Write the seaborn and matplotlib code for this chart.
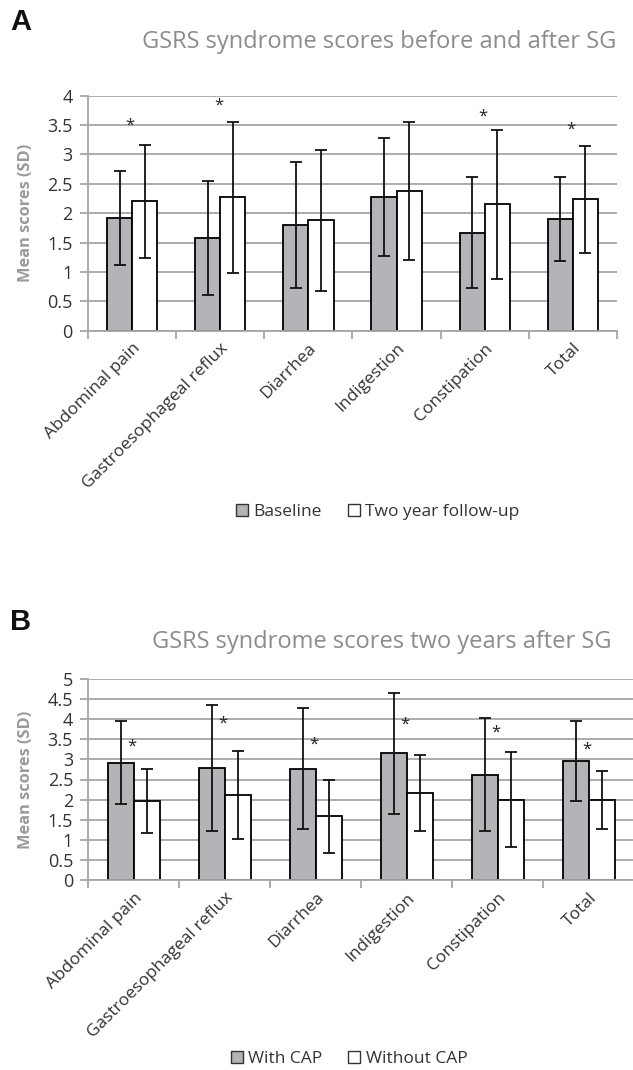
import numpy as np
import pandas as pd
import matplotlib
matplotlib.use("Agg")
import matplotlib.pyplot as plt
from matplotlib.patches import Patch
import seaborn as sns

# ---------------- data ----------------
categories = ["Abdominal pain", "Gastroesophageal reflux", "Diarrhea",
              "Indigestion", "Constipation", "Total"]

# Panel A
baseline_mean = [1.92, 1.58, 1.80, 2.28, 1.67, 1.90]
baseline_sd = [0.80, 0.97, 1.08, 1.00, 0.94, 0.72]
followup_mean = [2.20, 2.27, 1.88, 2.38, 2.15, 2.24]
followup_sd = [0.96, 1.28, 1.20, 1.17, 1.27, 0.91]
star_A = [3.57, 3.91, None, None, 3.73, 3.50]

# Panel B
with_cap_mean = [2.92, 2.79, 2.77, 3.15, 2.62, 2.96]
with_cap_sd = [1.03, 1.57, 1.50, 1.50, 1.41, 0.99]
without_cap_mean = [1.96, 2.12, 1.58, 2.17, 2.00, 1.99]
without_cap_sd = [0.80, 1.10, 0.90, 0.94, 1.18, 0.72]
star_B = [3.44, 4.02, 3.48, 3.98, 3.80, 3.36]

title_A = "GSRS syndrome scores before and after SG"
title_B = "GSRS syndrome scores two years after SG"
legend_A = ["Baseline", "Two year follow-up"]
legend_B = ["With CAP", "Without CAP"]
ylabel = "Mean scores (SD)"

# ---------------- style ----------------
sns.set_theme(style="white")
plt.rcParams["font.family"] = ["Open Sans", "DejaVu Sans"]

GRAY = "#b2b4b8"
GRID = "#a6a6a6"
TXT = "#333333"

W, H = 633, 1070
fig = plt.figure(figsize=(W / 100, H / 100), dpi=100)


def px_axes(left, top, right, bottom):
    return fig.add_axes([left / W, 1 - bottom / H, (right - left) / W, (bottom - top) / H])


def panel(ax, m1, s1, m2, s2, names, ymax, stars, label_x):
    df = pd.DataFrame({
        "category": categories * 2,
        "group": [names[0]] * len(categories) + [names[1]] * len(categories),
        "mean": m1 + m2,
    })
    sns.barplot(data=df, x="category", y="mean", hue="group",
                palette=[GRAY, "white"], saturation=1, width=0.57,
                edgecolor="black", linewidth=1.3, errorbar=None,
                legend=False, ax=ax, zorder=2)
    for cont, sds in zip(ax.containers, [s1, s2]):
        xs = [p.get_x() + p.get_width() / 2 for p in cont]
        hs = [p.get_height() for p in cont]
        ax.errorbar(xs, hs, yerr=sds, fmt="none", ecolor="#111111",
                    elinewidth=1.3, capsize=4.5, capthick=1.3, zorder=3)
    for i, sy in enumerate(stars):
        if sy is not None:
            ax.annotate("*", (i - 0.02, sy), xytext=(0, -6.5),
                        textcoords="offset points", ha="center",
                        va="baseline", fontsize=12, color="#222222")
    ax.set_xlim(-0.5, len(categories) - 0.5)
    ax.set_ylim(0, ymax)
    ax.set_yticks(np.arange(0, ymax + 0.01, 0.5))
    ax.set_yticklabels([f"{v:g}" for v in np.arange(0, ymax + 0.01, 0.5)])
    ax.set_xticks(range(len(categories)))
    ax.set_xticklabels(categories, rotation=45, ha="right",
                       rotation_mode="anchor")
    ax.set_xticks(np.arange(-0.5, len(categories)), minor=True)
    ax.tick_params(axis="x", which="major", length=0, pad=7,
                   labelsize=12.5, labelcolor=TXT)
    ax.tick_params(axis="x", which="minor", length=6, width=1.3,
                   color=GRID, bottom=True)
    ax.tick_params(axis="y", length=6, width=1.3, color=GRID, left=True,
                   labelsize=13, labelcolor=TXT, pad=5)
    ax.yaxis.grid(True, color=GRID, linewidth=1.3)
    ax.set_axisbelow(True)
    for s in ["top", "right"]:
        ax.spines[s].set_visible(False)
    for s in ["left", "bottom"]:
        ax.spines[s].set_color(GRID)
        ax.spines[s].set_linewidth(1.3)
    ax.set_xlabel("")
    ax.set_ylabel(ylabel, fontsize=11.8, fontweight="bold", color="#9a9a9a")
    ax.yaxis.set_label_coords(label_x, 0.5)


axA = px_axes(88, 95.7, 617, 330.7)
panel(axA, baseline_mean, baseline_sd, followup_mean, followup_sd,
      legend_A, 4, star_A, (34 - 88) / 529)

axB = px_axes(88.3, 679, 634.3, 880)
panel(axB, with_cap_mean, with_cap_sd, without_cap_mean, without_cap_sd,
      legend_B, 5, star_B, (34 - 88.3) / 546)

# titles and panel letters
fig.text(616 / W, 1 - 42 / H, title_A, ha="right", va="center",
         fontsize=17, color="#8c8c8c")
fig.text(611 / W, 1 - 642 / H, title_B, ha="right", va="center",
         fontsize=17, color="#8c8c8c")
fig.text(10 / W, 1 - 22 / H, "A", ha="left", va="center", fontsize=21,
         fontweight="bold", color="#111111", family="Liberation Sans")
fig.text(10 / W, 1 - 622 / H, "B", ha="left", va="center", fontsize=21,
         fontweight="bold", color="#111111", family="Liberation Sans")


def legend(names, cx, cy):
    handles = [Patch(facecolor=GRAY, edgecolor="#333333", linewidth=1.0),
               Patch(facecolor="white", edgecolor="#333333", linewidth=1.0)]
    fig.legend(handles, names, loc="center", bbox_to_anchor=(cx / W, 1 - cy / H),
               ncol=2, frameon=False, fontsize=12.5, handlelength=0.7,
               handleheight=0.7, handletextpad=0.3, columnspacing=1.5,
               labelcolor=TXT)


legend(legend_A, 378, 512)
legend(legend_B, 349, 1059)

fig.savefig("out.png", dpi=100)
